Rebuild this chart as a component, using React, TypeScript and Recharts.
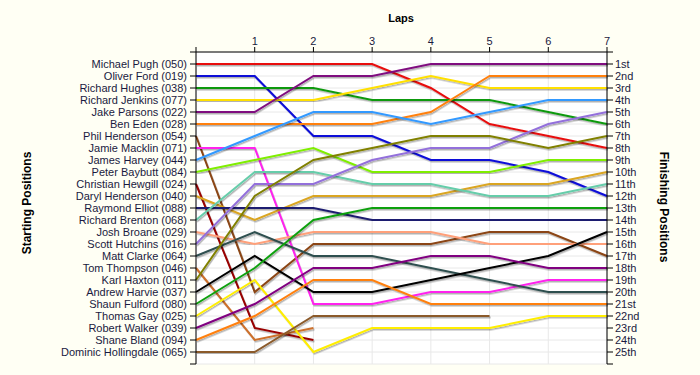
import { LineChart, Line, XAxis, YAxis, CartesianGrid } from 'recharts';

const laps = [0, 1, 2, 3, 4, 5, 6, 7];

const drivers = [
  'Michael Pugh (050)', 'Oliver Ford (019)', 'Richard Hughes (038)', 'Richard Jenkins (077)',
  'Jake Parsons (022)', 'Ben Eden (028)', 'Phil Henderson (054)', 'Jamie Macklin (071)',
  'James Harvey (044)', 'Peter Baybutt (084)', 'Christian Hewgill (024)', 'Daryl Henderson (040)',
  'Raymond Elliot (088)', 'Richard Brenton (068)', 'Josh Broane (029)', 'Scott Hutchins (016)',
  'Matt Clarke (064)', 'Tom Thompson (046)', 'Karl Haxton (011)', 'Andrew Harvie (037)',
  'Shaun Fulford (080)', 'Thomas Gay (025)', 'Robert Walker (039)', 'Shane Bland (094)',
  'Dominic Hollingdale (065)',
];

// position of each driver after lap 0..7 (null = retired)
const positions: (number | null)[][] = [
  [1, 1, 1, 1, 3, 6, 7, 8],
  [2, 2, 7, 7, 9, 9, 10, 12],
  [3, 3, 3, 4, 4, 4, 5, 6],
  [4, 4, 4, 3, 2, 3, 3, 3],
  [5, 5, 2, 2, 1, 1, 1, 1],
  [6, 6, 6, 6, 5, 2, 2, 2],
  [7, 20, 16, 16, 16, 15, 15, 17],
  [8, 8, 21, 21, 20, 20, 19, 19],
  [9, 7, 5, 5, 6, 5, 4, 4],
  [10, 9, 8, 10, 10, 10, 9, 9],
  [11, 23, 24, null, null, null, null, null],
  [12, 14, 12, 12, 12, 11, 11, 10],
  [13, 13, 13, 14, 14, 14, 14, 14],
  [14, 10, 10, 11, 11, 12, 12, 11],
  [15, 16, 15, 15, 15, 16, 16, 16],
  [16, 11, 11, 9, 8, 8, 6, 5],
  [17, 15, 17, 17, 18, 19, 20, 20],
  [18, 24, 23, null, null, null, null, null],
  [19, 12, 9, 8, 7, 7, 8, 7],
  [20, 17, 20, 20, 19, 18, 17, 15],
  [21, 18, 14, 13, 13, 13, 13, 13],
  [22, 19, 25, 23, 23, 23, 22, 22],
  [23, 21, 18, 18, 17, 17, 18, 18],
  [24, 22, 19, 19, 21, 21, 21, 21],
  [25, 25, 22, 22, 22, 22, null, null],
];

const finishLabels = [
  '1st', '2nd', '3rd', '4th', '5th', '6th', '7th', '8th', '9th', '10th', '11th', '12th', '13th',
  '14th', '15th', '16th', '17th', '18th', '19th', '20th', '21st', '22nd', '23rd', '24th', '25th',
];

const colors = [
  '#e81010', '#0a0ad8', '#119911', '#ffe000', '#7f0a7f', '#ff8010', '#8b4513', '#ff22ee',
  '#3399ff', '#7fee00', '#990000', '#daa520', '#1c1c70', '#66cdaa', '#ffa07a', '#9370db',
  '#2f4f4f', '#cd6f2a', '#808000', '#000000', '#10a010', '#ffee00', '#800080', '#ff8010',
  '#8b5a2b',
];

const rowTicks = Array.from({ length: 27 }, (_, i) => i);

const data = laps.map((lap, li) => {
  const row: Record<string, number | null> = { lap };
  drivers.forEach((d, di) => {
    row['d' + di] = positions[di][li];
  });
  return row;
});

const tickStyle = { fill: '#1a1a40', fontSize: 11, fontFamily: 'Arial, "Liberation Sans", sans-serif' };
const titleStyle: React.CSSProperties = {
  position: 'absolute',
  fontFamily: 'Arial, "Liberation Sans", sans-serif',
  fontWeight: 'bold',
  fontSize: 11,
  color: '#000',
  whiteSpace: 'nowrap',
};

export default function App() {
  return (
    <div style={{ position: 'fixed', left: 0, top: 0, width: 700, height: 375, background: '#fffff4' }}>
      <LineChart width={700} height={375} data={data} margin={{ top: 22, right: 0, bottom: 11, left: 0 }}>
        <defs>
          <filter id="sh" x="-5%" y="-5%" width="110%" height="110%">
            <feDropShadow dx="1" dy="1.5" stdDeviation="0.6" floodColor="#000" floodOpacity="0.3" />
          </filter>
        </defs>
        <CartesianGrid stroke="#e8e8e8" fill="#ffffff" />
        <XAxis
          dataKey="lap"
          type="number"
          orientation="top"
          domain={[0, 7]}
          ticks={laps}
          interval={0}
          height={30}
          tickSize={5}
          tickMargin={2}
          tick={tickStyle}
          tickFormatter={(v: number) => (v === 0 ? '' : String(v))}
          axisLine={{ stroke: '#000' }}
          tickLine={{ stroke: '#000' }}
        />
        <YAxis
          type="number"
          domain={[0, 26]}
          reversed
          ticks={rowTicks}
          interval={0}
          width={196}
          tickSize={6}
          tickMargin={3}
          tick={tickStyle}
          tickFormatter={(v: number) => (v >= 1 && v <= 25 ? drivers[v - 1] : '')}
          axisLine={{ stroke: '#000' }}
          tickLine={{ stroke: '#000' }}
        />
        <YAxis
          yAxisId="r"
          orientation="right"
          type="number"
          domain={[0, 26]}
          reversed
          ticks={rowTicks}
          interval={0}
          width={93}
          tickSize={6}
          tickMargin={2}
          tick={tickStyle}
          tickFormatter={(v: number) => (v >= 1 && v <= 25 ? finishLabels[v - 1] : '')}
          axisLine={{ stroke: '#000' }}
          tickLine={{ stroke: '#000' }}
        />
        {drivers.map((d, di) => (
          <Line
            key={d}
            dataKey={'d' + di}
            name={d}
            stroke={colors[di]}
            strokeWidth={2}
            dot={false}
            activeDot={false}
            type="linear"
            filter="url(#sh)"
            isAnimationActive={false}
          />
        ))}
        {/* invisible series so the finishing-position axis renders */}
        <Line
          yAxisId="r"
          dataKey="d0"
          stroke="none"
          strokeWidth={0}
          dot={false}
          activeDot={false}
          legendType="none"
          isAnimationActive={false}
        />
      </LineChart>
      <div style={{ ...titleStyle, left: 401, top: 12, transform: 'translateX(-50%)' }}>Laps</div>
      <div style={{ ...titleStyle, fontSize: 12, left: 27, top: 203, transform: 'translate(-50%, -50%) rotate(-90deg)' }}>
        Starting Positions
      </div>
      <div style={{ ...titleStyle, fontSize: 12, left: 664, top: 207, transform: 'translate(-50%, -50%) rotate(90deg)' }}>
        Finishing Positions
      </div>
    </div>
  );
}
